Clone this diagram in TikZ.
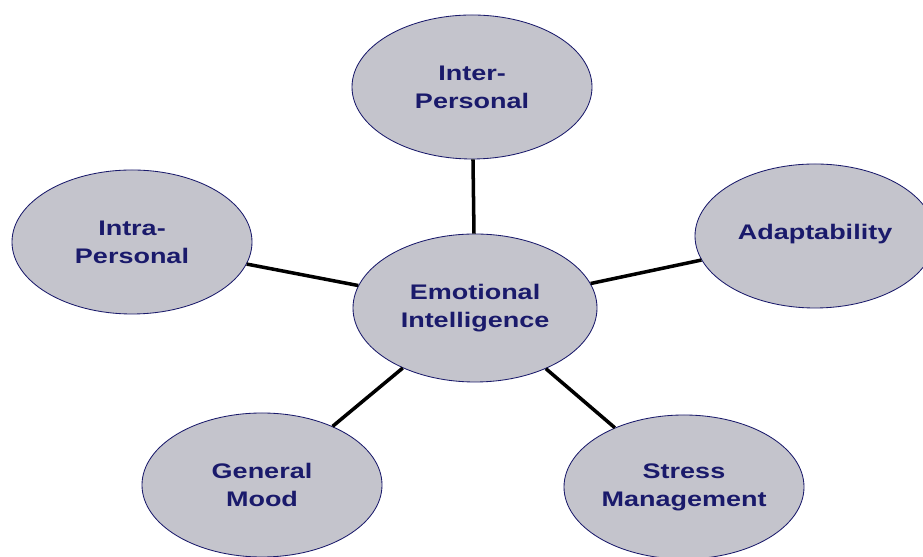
\documentclass[tikz,border=0pt]{standalone}
\usepackage{fontspec}
\setmainfont{Liberation Sans}[FakeStretch=1.28]
\usepackage{tikz}
\usetikzlibrary{shapes.geometric}

\definecolor{navy}{RGB}{26,26,107}
\definecolor{bubblegray}{RGB}{196,196,204}

\begin{document}
\begin{tikzpicture}[
        bubble/.style={ellipse, draw=navy, fill=bubblegray, line width=0.6pt,
            minimum width=6cm, minimum height=3.6cm, inner sep=0pt,
            align=center, text=navy, font=\fontsize{15}{20}\selectfont\bfseries},
        spoke/.style={line width=2.5pt, black}
    ]
        \useasboundingbox (0, 0) rectangle (23.075, 13.925);
        \node[bubble, minimum width=6.1cm, minimum height=3.7cm] (ei) at (11.875, 6.225)
            {Emotional\\Intelligence};
        \node[bubble] (inter) at (11.8, 11.75) {Inter-\\Personal};
        \node[bubble] (intra) at (3.3, 7.875) {Intra-\\Personal};
        \node[bubble] (adapt) at (20.375, 8.025) {\raisebox{6pt}{Adaptability}};
        \node[bubble] (mood) at (6.55, 1.8) {General\\Mood};
        \node[bubble] (stress) at (17.1, 1.75) {Stress\\Management};
        % spokes from the centre
        \draw[spoke] (ei) -- (inter);
        \draw[spoke] (ei) -- (intra);
        \draw[spoke] (ei) -- (adapt);
        \draw[spoke] (ei) -- (mood);
        \draw[spoke] (ei) -- (stress);
    \end{tikzpicture}
\end{document}
